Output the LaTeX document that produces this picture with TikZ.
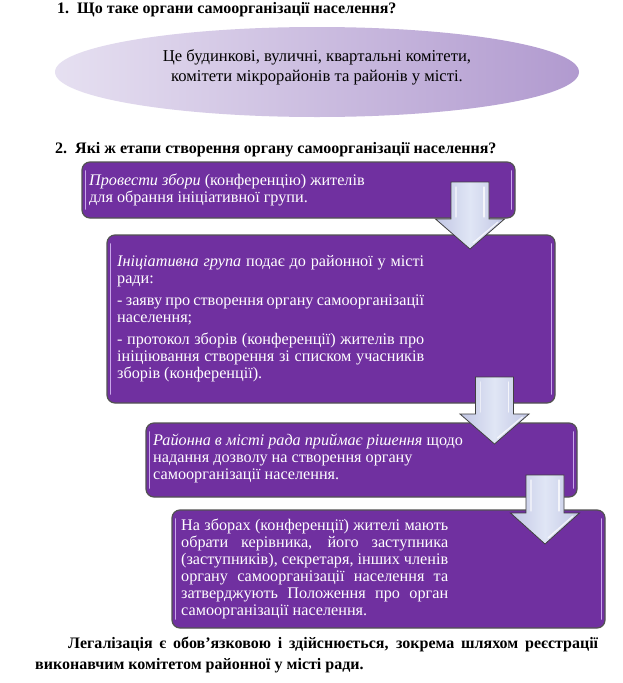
\documentclass[tikz,border=0pt]{standalone}
\usepackage{fontspec}
\setmainfont{Liberation Serif}
\usetikzlibrary{shapes.geometric}
\definecolor{boxpurple}{HTML}{7030A0}
\definecolor{bevel}{HTML}{C9A6EA}
\definecolor{ellL}{HTML}{E6E0F1}
\definecolor{ellR}{HTML}{B19ACF}
\definecolor{arrE}{HTML}{C2C6E4}
\definecolor{arrM}{HTML}{E0E6F5}
\newcommand{\blockarrow}[4]{%
  \path[arrowshape] (#1-19,#2) -- (#1+19,#2) -- (#1+19,#3) -- (#1+34.5,#3) -- (#1,#4) -- (#1-34.5,#3) -- (#1-19,#3) -- cycle;
  \draw[white, line width=1.3pt, opacity=0.75, line cap=round] (#1+14,#2+5) -- (#1+14,#3-2);
  \draw[white, line width=1.3pt, opacity=0.55, line cap=round] (#1-14,#2+5) -- (#1-14,#3-2);
  \draw[white, line width=1.3pt, opacity=0.75, line cap=round] (#1+28,#3+3) -- (#1+3,#4-6);
}
\newcommand{\jl}[1]{\makebox[\linew][s]{#1}}
\newlength{\linew}
\tikzset{
  stepbox/.style={draw=black!68, line width=1.2pt, fill=boxpurple, rounded corners=8pt,
    anchor=north west, inner sep=0pt, outer sep=0pt},
  bevelline/.style={draw=bevel, line width=1.6pt, line cap=round},
  boxtext/.style={text=white, anchor=north west, align=left, inner sep=0pt,
    font=\fontsize{16.2}{17}\selectfont},
  heading/.style={anchor=base west, inner sep=0pt, font=\fontsize{16}{18}\selectfont\bfseries},
  arrowshape/.style={draw=black!75, line width=0.8pt, left color=arrE, right color=arrE, middle color=arrM},
}
\begin{document}
\begin{tikzpicture}[x=1pt,y=-1pt]
\useasboundingbox (0,0) rectangle (623,683);
\fill[white] (0,0) rectangle (623,683);

% Heading 1
\node[heading] (h1) at (57,13) {1.\hspace{8pt}Що таке органи самоорганізації населення?};

% Ellipse
\node[ellipse, minimum width=524pt, minimum height=90pt, inner sep=0pt,
      left color=ellL, right color=ellR, draw=none] (ell) at (317,72) {};
\node[align=center, inner sep=0pt, font=\fontsize{16.6}{20}\selectfont, anchor=north] (elltext) at (317,47)
  {\strut Це будинкові, вуличні, квартальні комітети,\\ комітети мікрорайонів та районів у місті.};

% Heading 2
\node[heading] (h2) at (55,153) {2.\hspace{8pt}Які ж етапи створення органу самоорганізації населення?};

% Boxes
\node[stepbox, minimum width=433pt, minimum height=56pt] (b1) at (82,162) {};
\node[stepbox, minimum width=448pt, minimum height=168pt] (b2) at (107,235) {};
\node[stepbox, minimum width=431pt, minimum height=74pt] (b3) at (146,423) {};
\node[stepbox, minimum width=433pt, minimum height=118pt] (b4) at (172,510) {};

\foreach \b in {b1,b2,b3,b4}{
  \draw[bevelline] ([xshift=3.5pt,yshift=-9pt]\b.north west) -- ([xshift=3.5pt,yshift=9pt]\b.south west);
  \draw[bevelline] ([xshift=-3.5pt,yshift=-9pt]\b.north east) -- ([xshift=-3.5pt,yshift=9pt]\b.south east);
}

% Box texts
\node[boxtext] (t1) at (89,173) {\strut\textit{Провести збори} (конференцію) жителів\\
  для обрання ініціативної групи.};
\setlength{\linew}{307pt}
\node[boxtext] (t2) at (117,254) {\strut\jl{\textit{Ініціативна група} подає до районної у місті}\\
  ради:\\[5pt]
  \jl{- заяву про створення органу самоорганізації}\\
  населення;\\[5pt]
  \jl{- протокол зборів (конференції) жителів про}\\
  \jl{ініціювання створення зі списком учасників}\\
  зборів (конференції).};
\node[boxtext] (t3) at (153,433) {\strut\textit{Районна в місті рада приймає рішення} щодо\\
  надання дозволу на створення органу\\
  самоорганізації населення.};
\setlength{\linew}{267pt}
\node[boxtext] (t4) at (181,518) {\strut\jl{На зборах (конференції) жителі мають}\\
  \jl{обрати керівника, його заступника}\\
  \jl{(заступників), секретаря, інших членів}\\
  \jl{органу самоорганізації населення та}\\
  \jl{затверджують Положення про орган}\\
  самоорганізації населення.};

% Arrows
\blockarrow{470}{182}{219}{249}
\blockarrow{494.5}{377}{414}{444}
\blockarrow{545}{475}{513}{544}

% Bottom text
\node[heading] (f1) at (68,648) {\makebox[530pt][s]{Легалізація є обов’язковою і здійснюється, зокрема шляхом реєстрації}};
\node[heading] (f2) at (35,669) {виконавчим комітетом районної у місті ради.};
\end{tikzpicture}
\end{document}
